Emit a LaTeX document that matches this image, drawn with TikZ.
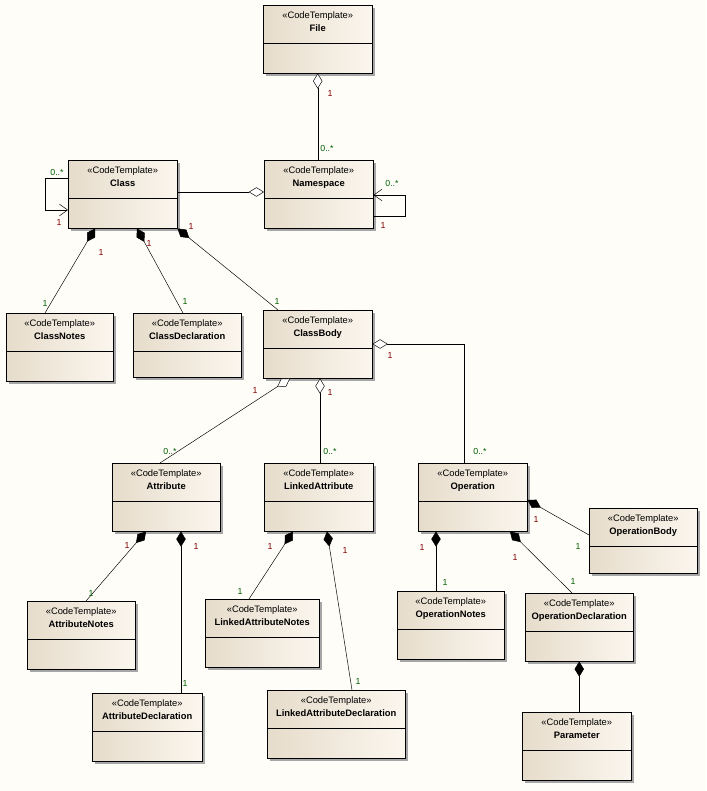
\documentclass[tikz,border=0pt]{standalone}
\usepackage{fontspec}
\setmainfont{Liberation Sans}
\usepackage{tikz}
\usetikzlibrary{arrows.meta, shadows}
\newcommand{\px}{0.03cm}
\definecolor{paper}{HTML}{FFFDF8}
\definecolor{boxdark}{HTML}{E6DCCB}
\definecolor{boxlight}{HTML}{FBF6EE}
\definecolor{multred}{HTML}{800000}
\definecolor{multgreen}{HTML}{006000}
\tikzset{
  tmpl/.style={rectangle, draw=black, left color=boxdark, right color=boxlight,
    drop shadow={shadow xshift=2.5pt, shadow yshift=-2.5pt, fill=black!35, opacity=1}},
  tmpltext/.style={align=center, font=\fontsize{8}{11.5}\selectfont, inner sep=2pt, yshift=-3.5pt},
  aggr/.style={{Diamond[open, fill=white, length=13pt, width=8pt]}-},
  comp/.style={{Diamond[length=13pt, width=8pt]}-},
  selfref/.style={-{Straight Barb[length=7pt, width=10pt]}},
  mult/.style={font=\fontsize{7.5}{8}\selectfont, inner sep=0pt}
}
% template box: name, left, top, width, height, title
\newcommand{\tmpl}[6]{%
  \node[tmpl, minimum width=#4*\px, minimum height=#5*\px, anchor=north west] (#1) at (#2,#3) {};
  \node[tmpltext, anchor=north] (#1-t) at (#1.north) {«CodeTemplate»\\\textbf{#6}};
  \draw ([yshift=-38*\px]#1.north west) -- ([yshift=-38*\px]#1.north east);
}

\begin{document}
\begin{tikzpicture}[x=0.03cm, y=-0.03cm]
\fill[paper] (0,0) rectangle (706,791);
\useasboundingbox (0,0) rectangle (706,791);

\tmpl{file}{263}{5}{109}{68}{File}
\tmpl{cls}{68}{160}{109}{68}{Class}
\tmpl{ns}{264}{160}{109}{68}{Namespace}
\tmpl{cnotes}{6}{313}{107}{68}{ClassNotes}
\tmpl{cdecl}{133}{313}{108}{64}{ClassDeclaration}
\tmpl{cbody}{263}{310}{109}{68}{ClassBody}
\tmpl{attr}{112}{463}{108}{68}{Attribute}
\tmpl{lattr}{264}{463}{109}{68}{LinkedAttribute}
\tmpl{op}{418}{463}{109}{68}{Operation}
\tmpl{opbody}{589}{508}{108}{65}{OperationBody}
\tmpl{anotes}{27}{601}{108}{68}{AttributeNotes}
\tmpl{lanotes}{205}{599}{114}{68}{LinkedAttributeNotes}
\tmpl{opnotes}{397}{591}{107}{68}{OperationNotes}
\tmpl{opdecl}{525}{593}{108}{68}{OperationDeclaration}
\tmpl{adecl}{92}{693}{110}{68}{AttributeDeclaration}
\tmpl{ladecl}{267}{690}{138}{68}{LinkedAttributeDeclaration}
\tmpl{param}{522}{712}{109}{68}{Parameter}

% aggregations
\draw[aggr] (file.south) -- (file.south |- ns.north);
\draw[aggr] ([yshift=-32*\px]ns.north west) -- ([yshift=-32*\px]cls.north east);
\draw[aggr] ([yshift=-34*\px]cbody.north east) -| ([xshift=46*\px]op.north west);
\draw[aggr] ([xshift=27*\px]cbody.south west) -- ([xshift=48*\px]attr.north west);
\draw[aggr] ([xshift=57*\px]cbody.south west) -- ([xshift=56*\px]lattr.north west);

% self references
\draw[selfref] ([yshift=-18*\px]cls.north west) -- ++(-23,0) |- ([yshift=-50*\px]cls.north west);
\draw[selfref] ([yshift=-56*\px]ns.north east) -- ++(32,0) |- ([yshift=-35*\px]ns.north east);

% compositions
\draw[comp] ([xshift=27*\px]cls.south west) -- ([xshift=39*\px]cnotes.north west);
\draw[comp] ([xshift=69*\px]cls.south west) -- ([xshift=50*\px]cdecl.north west);
\draw[comp] (cls.south east) -- ([xshift=15*\px]cbody.north west);
\draw[comp] ([xshift=34*\px]attr.south west) -- ([xshift=59*\px]anotes.north west);
\draw[comp] ([xshift=69*\px]attr.south west) -- ([xshift=89*\px]adecl.north west);
\draw[comp] ([xshift=29*\px]lattr.south west) -- ([xshift=44*\px]lanotes.north west);
\draw[comp] ([xshift=63*\px]lattr.south west) -- ([xshift=85*\px]ladecl.north west);
\draw[comp] ([yshift=-37*\px]op.north east) -- ([yshift=-27*\px]opbody.north west);
\draw[comp] ([xshift=18*\px]op.south west) -- ([xshift=39*\px]opnotes.north west);
\draw[comp] ([xshift=92*\px]op.south west) -- ([xshift=47*\px]opdecl.north west);
\draw[comp] (opdecl.south) -- (opdecl.south |- param.north);

% multiplicities
\foreach \x/\y/\t/\c [count=\i] in {
  330/93/1/multred, 327/148/0..*/multgreen,
  57/172/0..*/multgreen, 59/222/1/multred,
  392/183/0..*/multgreen, 383/225/1/multred,
  101/252/1/multred, 45/303/1/multgreen,
  149/243/1/multred, 185/301/1/multgreen,
  191/226/1/multred, 277/301/1/multgreen,
  390/355/1/multred, 480/451/0..*/multgreen,
  255/390/1/multred, 170/451/0..*/multgreen,
  330/392/1/multred, 330/451/0..*/multgreen,
  127/545/1/multred, 91/593/1/multgreen,
  196/546/1/multred, 185/683/1/multgreen,
  270/546/1/multred, 240/591/1/multgreen,
  345/550/1/multred, 358/681/1/multgreen,
  536/519/1/multred, 578/546/1/multgreen,
  422/547/1/multred, 445/582/1/multgreen,
  515/557/1/multred, 573/581/1/multgreen}
  \node[mult, text=\c] (m\i) at (\x,\y) {\t};
\end{tikzpicture}
\end{document}
